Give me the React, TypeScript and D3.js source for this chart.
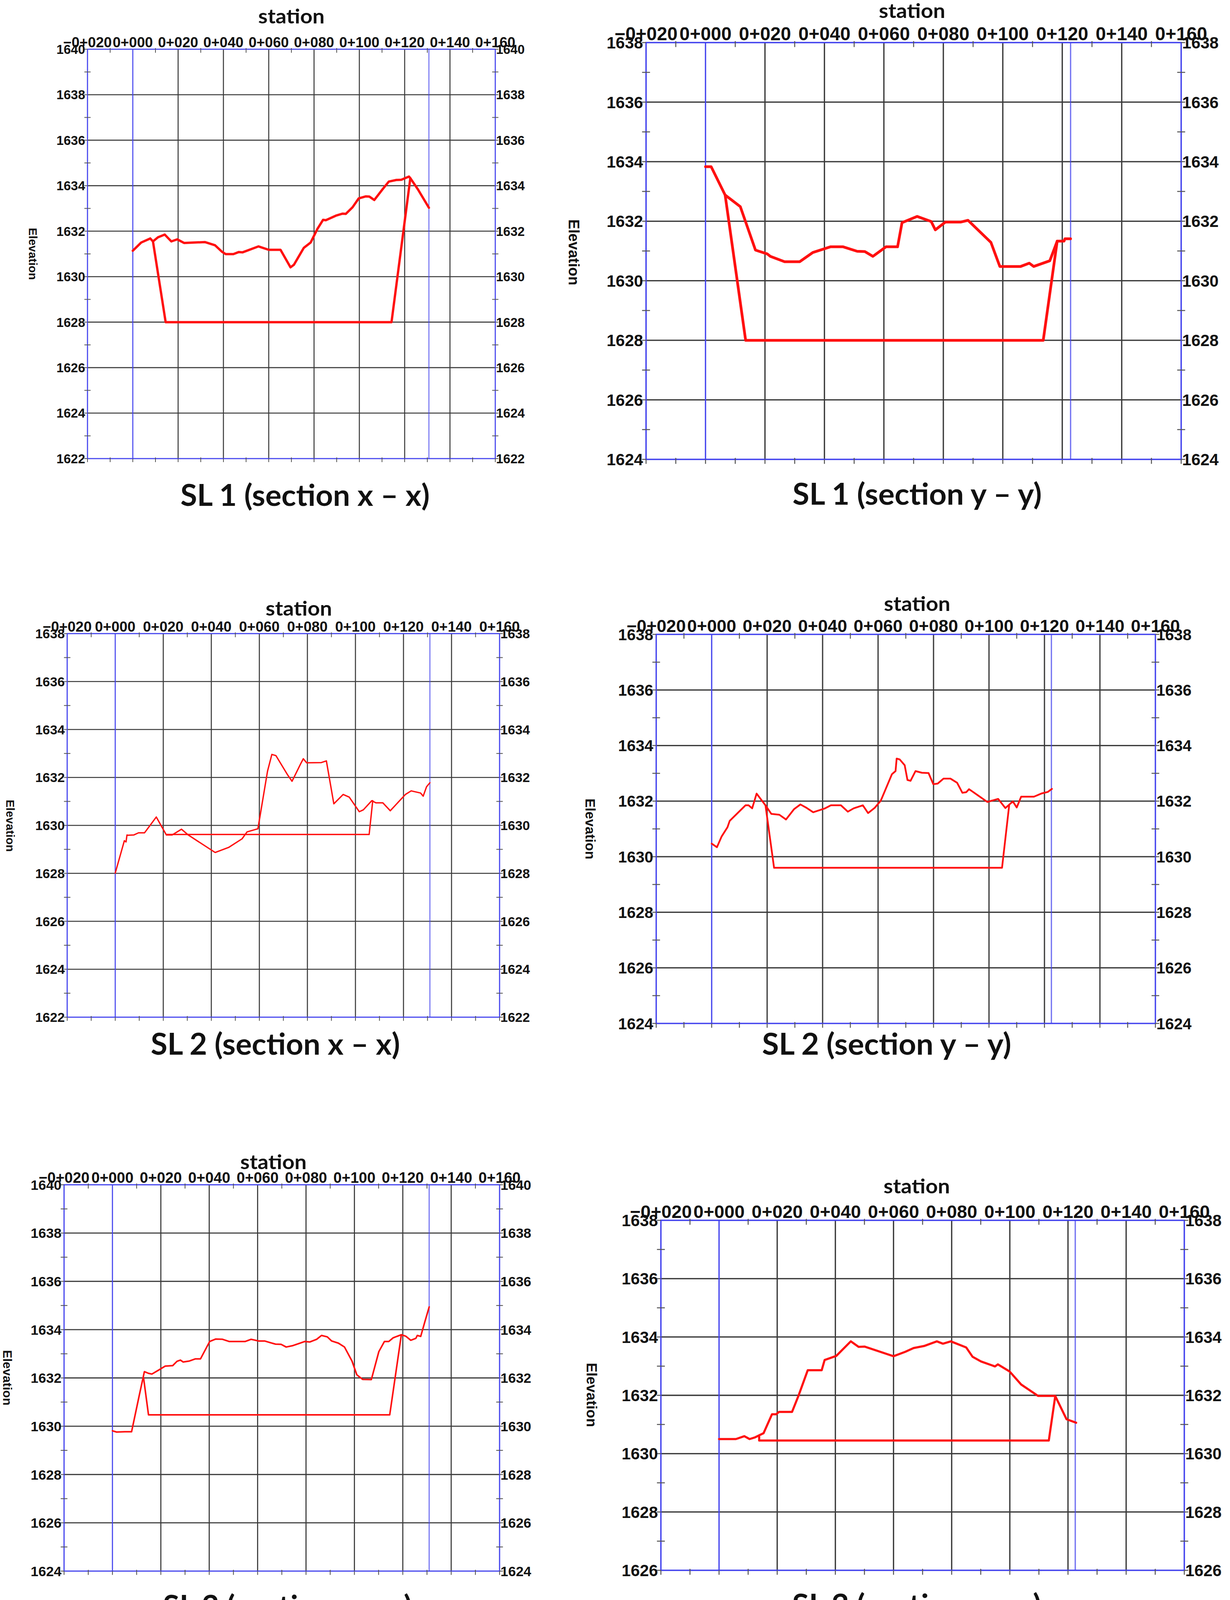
import React from "react";
import * as d3 from "d3";

// ---------- axis ticks ----------
const stationTicks = [-20, 0, 20, 40, 60, 80, 100, 120, 140, 160];
const stationTickLabels = ["\u22120+020", "0+000", "0+020", "0+040", "0+060", "0+080", "0+100", "0+120", "0+140", "0+160"];
const stationMinorTicks = [-10, 10, 30, 50, 70, 90, 110, 130, 150];
const stationGrid = [20, 40, 60, 80, 100, 120, 140];

// ---------- SL 1 section x-x ----------
const sl1xStations = [0, 3.7, 7.7, 8.9, 11.1, 14.1, 17.0, 19.6, 22.7, 31.8, 36.3, 39.3, 41.0, 44.4, 46.7, 48.5, 55.5, 60.0, 65.2, 69.6, 71.1, 75.5, 78.5, 81.5, 84.0, 85.2, 89.6, 92.6, 94.0, 97.0, 99.7, 102.9, 104.4, 106.6, 110.3, 113.0, 116.3, 118.5, 121.9, 122.5, 125.9, 130.7];
const sl1xGround = [1631.14, 1631.5, 1631.68, 1631.55, 1631.73, 1631.85, 1631.55, 1631.64, 1631.48, 1631.52, 1631.38, 1631.1, 1630.99, 1630.99, 1631.08, 1631.07, 1631.33, 1631.18, 1631.18, 1630.41, 1630.52, 1631.27, 1631.5, 1632.1, 1632.5, 1632.48, 1632.68, 1632.77, 1632.76, 1633.05, 1633.44, 1633.53, 1633.52, 1633.37, 1633.85, 1634.18, 1634.25, 1634.26, 1634.4, 1634.33, 1633.83, 1633.03];
const sl1xDesignStations = [8.9, 14.5, 114.2, 122.5];
const sl1xDesign = [1631.55, 1628.0, 1628.0, 1634.33];

// ---------- SL 1 section y-y ----------
const sl1yStations = [0, 1.9, 6.6, 11.7, 16.8, 20.8, 21.8, 26.6, 31.7, 36.1, 42.0, 46.3, 51.0, 53.6, 56.3, 60.7, 64.6, 66.1, 71.2, 75.9, 77.3, 80.7, 85.8, 88.3, 96.0, 99.0, 106.0, 108.9, 110.4, 115.8, 118.3, 120.6, 120.9, 122.8];
const sl1yGround = [1633.83, 1633.83, 1632.88, 1632.49, 1631.03, 1630.9, 1630.82, 1630.64, 1630.64, 1630.95, 1631.14, 1631.14, 1630.99, 1630.98, 1630.82, 1631.14, 1631.14, 1631.95, 1632.16, 1631.99, 1631.71, 1631.97, 1631.97, 1632.03, 1631.29, 1630.48, 1630.48, 1630.59, 1630.48, 1630.67, 1631.33, 1631.33, 1631.41, 1631.41];
const sl1yDesignStations = [6.6, 13.5, 113.6, 118.3];
const sl1yDesign = [1632.88, 1628.0, 1628.0, 1631.33];

// ---------- SL 2 section x-x ----------
const sl2xStations = [0, 3.8, 4.5, 4.9, 5.2, 7.7, 9.7, 12.2, 17.1, 21.3, 23.7, 27.6, 30.4, 41.6, 47.2, 52.8, 54.9, 59.4, 63.4, 65.2, 66.9, 71.8, 73.6, 77.4, 78.3, 79.7, 85.8, 87.9, 91.0, 94.9, 97.4, 101.6, 103.3, 106.8, 108.5, 111.4, 114.5, 120.8, 123.2, 127.1, 128.2, 129.6, 131.0];
const sl2xGround = [1628.01, 1629.36, 1629.31, 1629.6, 1629.59, 1629.6, 1629.69, 1629.69, 1630.35, 1629.6, 1629.6, 1629.84, 1629.6, 1628.87, 1629.08, 1629.44, 1629.73, 1629.86, 1632.26, 1632.96, 1632.91, 1632.1, 1631.84, 1632.61, 1632.78, 1632.61, 1632.62, 1632.69, 1630.9, 1631.29, 1631.18, 1630.57, 1630.65, 1631.03, 1630.94, 1630.94, 1630.61, 1631.29, 1631.44, 1631.35, 1631.22, 1631.61, 1631.78];
const sl2xDesignStations = [21.3, 105.7, 107.2];
const sl2xDesign = [1629.62, 1629.62, 1631.03];

// ---------- SL 2 section y-y ----------
const sl2yStations = [0, 1.9, 3.6, 5.7, 6.5, 12.2, 13.3, 14.6, 16.2, 19.4, 21.5, 24.4, 26.8, 29.7, 32.0, 34.0, 36.6, 40.9, 43.0, 46.6, 49.1, 51.2, 54.5, 56.4, 58.8, 61.0, 65.0, 66.3, 66.7, 67.8, 69.6, 70.6, 71.7, 73.5, 75.8, 78.2, 79.9, 81.5, 83.6, 86.1, 88.5, 90.4, 91.8, 92.8, 95.4, 99.4, 103.3, 105.9, 108.6, 110.0, 111.6, 116.2, 119.1, 121.2, 122.7];
const sl2yGround = [1630.47, 1630.34, 1630.73, 1631.06, 1631.29, 1631.85, 1631.85, 1631.74, 1632.27, 1631.85, 1631.54, 1631.51, 1631.34, 1631.71, 1631.88, 1631.77, 1631.6, 1631.74, 1631.85, 1631.85, 1631.62, 1631.74, 1631.85, 1631.57, 1631.76, 1632.02, 1632.97, 1633.08, 1633.53, 1633.5, 1633.29, 1632.76, 1632.73, 1633.08, 1633.02, 1633.01, 1632.61, 1632.63, 1632.81, 1632.81, 1632.66, 1632.3, 1632.32, 1632.43, 1632.25, 1631.97, 1632.08, 1631.75, 1631.99, 1631.77, 1632.16, 1632.16, 1632.28, 1632.33, 1632.44];
const sl2yDesignStations = [19.4, 22.5, 104.7, 107.3];
const sl2yDesign = [1631.85, 1629.6, 1629.6, 1631.87];

// ---------- SL 3 section x-x ----------
const sl3xStations = [0, 1.7, 5.1, 7.9, 11.0, 13.2, 14.9, 16.3, 19.0, 21.8, 24.9, 26.7, 28.1, 29.2, 31.8, 34.3, 36.4, 40.2, 42.7, 45.5, 48.2, 54.9, 57.3, 60.5, 62.9, 64.9, 67.4, 69.7, 71.8, 74.6, 79.5, 81.6, 84.4, 86.4, 88.8, 90.6, 93.4, 95.9, 99.0, 101.0, 103.4, 107.0, 110.1, 112.4, 114.2, 116.0, 119.4, 121.2, 123.3, 125.4, 126.0, 127.4, 129.1, 130.9];
const sl3xGround = [1629.81, 1629.76, 1629.77, 1629.77, 1631.24, 1632.26, 1632.19, 1632.16, 1632.32, 1632.49, 1632.51, 1632.69, 1632.74, 1632.66, 1632.7, 1632.79, 1632.79, 1633.51, 1633.61, 1633.6, 1633.51, 1633.51, 1633.6, 1633.53, 1633.53, 1633.47, 1633.4, 1633.39, 1633.28, 1633.34, 1633.51, 1633.49, 1633.6, 1633.76, 1633.7, 1633.53, 1633.44, 1633.28, 1632.7, 1632.13, 1631.94, 1631.93, 1633.09, 1633.51, 1633.51, 1633.66, 1633.79, 1633.73, 1633.56, 1633.64, 1633.76, 1633.72, 1634.32, 1634.94];
const sl3xDesignStations = [12.8, 14.9, 114.6, 119.4];
const sl3xDesign = [1632.05, 1630.47, 1630.47, 1633.79];

// ---------- SL 3 section y-y ----------
const sl3yStations = [0, 5.8, 8.7, 10.5, 12.4, 15.3, 18.2, 19.6, 20.6, 25.1, 27.3, 30.5, 35.3, 36.3, 40.3, 45.3, 48.0, 50.1, 60.0, 64.0, 66.9, 70.5, 74.9, 77.0, 79.7, 85.0, 87.2, 90.1, 94.9, 95.9, 99.9, 103.9, 109.7, 115.6, 119.5, 122.8];
const sl3yGround = [1630.5, 1630.5, 1630.6, 1630.5, 1630.56, 1630.7, 1631.35, 1631.35, 1631.43, 1631.43, 1631.98, 1632.86, 1632.86, 1633.21, 1633.35, 1633.85, 1633.66, 1633.67, 1633.34, 1633.49, 1633.62, 1633.69, 1633.85, 1633.77, 1633.85, 1633.64, 1633.32, 1633.16, 1632.99, 1633.06, 1632.82, 1632.37, 1631.98, 1631.98, 1631.18, 1631.06];
const sl3yDesignStations = [13.8, 13.8, 113.4, 115.6];
const sl3yDesign = [1630.58, 1630.45, 1630.45, 1631.96];

// ---------- per-panel texts & axis ranges ----------
const captions = ["SL 1 (section x \u2013 x)", "SL 1 (section y \u2013 y)", "SL 2 (section x \u2013 x)", "SL 2 (section y \u2013 y)", "SL 3 (section x \u2013 x)", "SL 3 (section y \u2013 y)"];
const elevationDomains: [number, number][] = [[1622, 1640], [1624, 1638], [1622, 1638], [1624, 1638], [1624, 1640], [1626, 1638]];
const endStations = [130.7, 122.8, 131.0, 122.5, 130.9, 122.5];
const titleText = "station";
const yAxisText = "Elevation";

// ---------- layout (pixels) ----------
const layouts = [
  { L: 224, R: 1268, T: 126, B: 1174, fs: 33, fsTop: 36.7, elevX: 84, elevY: 650, elevFs: 30, titleX: 746, titleY: 60, capX: 781, capY: 1295, red: 6 },
  { L: 1654, R: 3024, T: 109, B: 1176, fs: 42, fsTop: 47.5, elevX: 1469, elevY: 646, elevFs: 38, titleX: 2335, titleY: 46, capX: 2348, capY: 1292, red: 7 },
  { L: 172, R: 1279, T: 1622, B: 2604, fs: 34, fsTop: 37, elevX: 26, elevY: 2114, elevFs: 30, titleX: 765, titleY: 1576, capX: 705, capY: 2700, red: 3.5 },
  { L: 1680, R: 2958, T: 1624, B: 2620, fs: 40.5, fsTop: 44.7, elevX: 1511, elevY: 2122, elevFs: 35, titleX: 2348, titleY: 1564, capX: 2270, capY: 2700, red: 4.5 },
  { L: 164, R: 1279, T: 3033, B: 4022, fs: 35.5, fsTop: 38.4, elevX: 19, elevY: 3527, elevFs: 32, titleX: 700, titleY: 2993, capX: 736, capY: 4139, red: 4 },
  { L: 1692, R: 3032, T: 3124, B: 4020, fs: 41.8, fsTop: 46.7, elevX: 1515, elevY: 3571, elevFs: 37, titleX: 2347, titleY: 3055, capX: 2347, capY: 4136, red: 5.5 },
];

const panelData = [
  { gs: sl1xStations, ge: sl1xGround, ds: sl1xDesignStations, de: sl1xDesign },
  { gs: sl1yStations, ge: sl1yGround, ds: sl1yDesignStations, de: sl1yDesign },
  { gs: sl2xStations, ge: sl2xGround, ds: sl2xDesignStations, de: sl2xDesign },
  { gs: sl2yStations, ge: sl2yGround, ds: sl2yDesignStations, de: sl2yDesign },
  { gs: sl3xStations, ge: sl3xGround, ds: sl3xDesignStations, de: sl3xDesign },
  { gs: sl3yStations, ge: sl3yGround, ds: sl3yDesignStations, de: sl3yDesign },
];

const BLUE = "#4343ee";
const GRID = "#3a3a3a";
const RED = "#ff1010";
const TICKFONT = "'Liberation Sans', Arial, Helvetica, sans-serif";
const TITLEFONT = "Lato, 'Open Sans', sans-serif";

function Panel({ i }: { i: number }) {
  const lay = layouts[i];
  const dat = panelData[i];
  const [y0, y1] = elevationDomains[i];
  const x = d3.scaleLinear().domain([stationTicks[0], stationTicks[stationTicks.length - 1]]).range([lay.L, lay.R]);
  const y = d3.scaleLinear().domain([y0, y1]).range([lay.B, lay.T]);
  const k = lay.fs / 33;
  const line = d3
    .line<[number, number]>()
    .x((d) => x(d[0]))
    .y((d) => y(d[1]));
  const ground = d3.zip(dat.gs, dat.ge) as [number, number][];
  const design = d3.zip(dat.ds, dat.de) as [number, number][];
  const majorY = d3.range(y0, y1 + 0.001, 2);
  const minorY = d3.range(y0 + 1, y1, 2);
  const innerY = majorY.filter((v) => v > y0 && v < y1);
  const tickLen = 8 * k;
  return (
    <g>
      {innerY.map((v) => (
        <line key={"hy" + v} x1={lay.L} x2={lay.R} y1={y(v)} y2={y(v)} stroke={GRID} strokeWidth={2.6 * k} />
      ))}
      {stationGrid.map((v) => (
        <line key={"vx" + v} x1={x(v)} x2={x(v)} y1={lay.T} y2={lay.B} stroke={GRID} strokeWidth={2.6 * k} />
      ))}
      <line x1={x(0)} x2={x(0)} y1={lay.T} y2={lay.B} stroke={BLUE} strokeWidth={2.6 * k} />
      <line x1={x(endStations[i])} x2={x(endStations[i])} y1={lay.T} y2={lay.B} stroke={BLUE} strokeWidth={2.6 * k} opacity={0.75} />
      <rect x={lay.L} y={lay.T} width={lay.R - lay.L} height={lay.B - lay.T} fill="none" stroke={BLUE} strokeWidth={2.8 * k} />
      {minorY.map((v) => (
        <g key={"my" + v}>
          <line x1={lay.L - tickLen} x2={lay.L + tickLen} y1={y(v)} y2={y(v)} stroke="#555" strokeWidth={2 * k} />
          <line x1={lay.R - tickLen} x2={lay.R + tickLen} y1={y(v)} y2={y(v)} stroke="#555" strokeWidth={2 * k} />
        </g>
      ))}
      {majorY.map((v) => (
        <g key={"My" + v}>
          <line x1={lay.L - tickLen} x2={lay.L} y1={y(v)} y2={y(v)} stroke="#555" strokeWidth={2 * k} />
          <line x1={lay.R} x2={lay.R + tickLen} y1={y(v)} y2={y(v)} stroke="#555" strokeWidth={2 * k} />
        </g>
      ))}
      {stationMinorTicks.map((v) => (
        <g key={"mx" + v}>
          <line x1={x(v)} x2={x(v)} y1={lay.T - 3 * k} y2={lay.T + 9 * k} stroke="#555" strokeWidth={2 * k} />
          <line x1={x(v)} x2={x(v)} y1={lay.B - 3 * k} y2={lay.B + 9 * k} stroke="#555" strokeWidth={2 * k} />
        </g>
      ))}
      {stationTicks.map((v) => (
        <line key={"bx" + v} x1={x(v)} x2={x(v)} y1={lay.B} y2={lay.B + 9 * k} stroke="#555" strokeWidth={2 * k} />
      ))}
      <path d={line(design) || ""} fill="none" stroke={RED} strokeWidth={lay.red} strokeLinejoin="round" strokeLinecap="round" />
      <path d={line(ground) || ""} fill="none" stroke={RED} strokeWidth={lay.red} strokeLinejoin="round" strokeLinecap="round" />
      {majorY.map((v) => (
        <text key={"ly" + v} x={lay.L - 6 * k} y={y(v)} dy="0.36em" textAnchor="end" fontFamily={TICKFONT} fontWeight="bold" fontSize={lay.fs} fill="#111">
          {v}
        </text>
      ))}
      {majorY.map((v) => (
        <text key={"ry" + v} x={lay.R + 2 * k} y={y(v)} dy="0.36em" textAnchor="start" fontFamily={TICKFONT} fontWeight="bold" fontSize={lay.fs} fill="#111">
          {v}
        </text>
      ))}
      {stationTicks.map((v, j) => (
        <text key={"lx" + v} x={x(v)} y={lay.T - 5 * k} textAnchor="middle" fontFamily={TICKFONT} fontWeight="bold" fontSize={lay.fsTop} fill="#111">
          {stationTickLabels[j]}
        </text>
      ))}
      <text x={lay.titleX} y={lay.titleY} textAnchor="middle" fontFamily={TITLEFONT} fontWeight="bold" fontSize={51} fill="#111" textLength={170} lengthAdjust="spacingAndGlyphs">
        {titleText}
      </text>
      <text
        transform={`translate(${lay.elevX},${lay.elevY}) rotate(90)`}
        textAnchor="middle"
        dy="0.35em"
        fontFamily={TICKFONT}
        fontWeight="bold"
        fontSize={lay.elevFs}
        fill="#111"
      >
        {yAxisText}
      </text>
      <text x={lay.capX} y={lay.capY} textAnchor="middle" fontFamily={TITLEFONT} fontWeight="bold" fontSize={76} fill="#111" textLength={638} lengthAdjust="spacingAndGlyphs">
        {captions[i]}
      </text>
    </g>
  );
}

export default function App() {
  return (
    <svg width={3149} height={4157} style={{ position: "absolute", left: 0, top: 0, background: "#fff" }}>
      <rect x={0} y={0} width={3149} height={4157} fill="#fff" />
      {layouts.map((_, i) => (
        <Panel key={i} i={i} />
      ))}
    </svg>
  );
}
